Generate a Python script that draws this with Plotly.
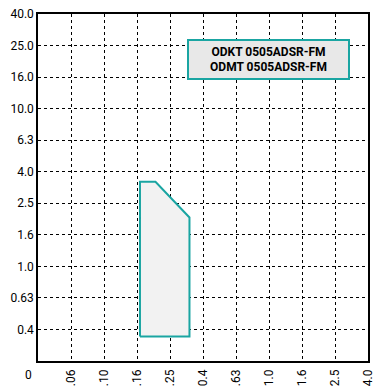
import plotly.graph_objects as go

x_ticks = ["0.06", "0.10", "0.16", "0.25", "0.4", "0.63", "1.0", "1.6", "2.5", "4.0"]
y_ticks = ["0.4", "0.63", "1.0", "1.6", "2.5", "4.0", "6.3", "10.0", "16.0", "25.0", "40.0"]

# polygon of application area (in tick index units)
area_x = [3.09, 3.09, 3.56, 4.59, 4.59, 3.09]
area_y = [0.78, 5.68, 5.68, 4.55, 0.78, 0.78]

label_lines = ["ODKT 0505ADSR-FM", "ODMT 0505ADSR-FM"]

teal = "#1aa5a2"
font_fam = "Roboto, sans-serif"

fig = go.Figure()
fig.add_trace(go.Scatter(
    x=area_x, y=area_y, mode="lines", fill="toself",
    fillcolor="#f2f2f2", line=dict(color=teal, width=2),
    hoverinfo="skip", showlegend=False,
))

fig.update_layout(
    width=377, height=387,
    margin=dict(l=38, r=9, t=14, b=26),
    plot_bgcolor="white", paper_bgcolor="white",
    font=dict(family=font_fam, size=12, color="black"),
    showlegend=False,
    xaxis=dict(
        range=[0, 10], tickmode="array",
        tickvals=list(range(1, len(x_ticks) + 1)), ticktext=x_ticks,
        tickangle=-90, showgrid=True, gridcolor="black", griddash="dot",
        gridwidth=1, showline=True, linecolor="black", linewidth=1.5,
        mirror=True, ticks="", zeroline=False, fixedrange=True,
        tickfont=dict(size=12), automargin=False, ticklabelstandoff=2,
    ),
    yaxis=dict(
        range=[0, 11], tickmode="array",
        tickvals=list(range(1, len(y_ticks) + 1)), ticktext=y_ticks,
        showgrid=True, gridcolor="black", griddash="dot",
        gridwidth=1, showline=True, linecolor="black", linewidth=1.5,
        mirror=True, ticks="", zeroline=False, fixedrange=True,
        tickfont=dict(size=12), automargin=False,
    ),
)

fig.add_annotation(
    x=0, y=0, xref="x", yref="y", text="0", showarrow=False,
    xanchor="right", yanchor="top", xshift=-4, yshift=-5,
    font=dict(size=12),
)

fig.add_annotation(
    x=6.98, y=9.55, xref="x", yref="y",
    text="<b>" + "<br>".join(label_lines) + "</b>",
    showarrow=False, bgcolor="#e8e8e8", bordercolor=teal, borderwidth=2,
    width=157, height=35, align="center", font=dict(size=12),
)

fig.write_html(
    "out.html",
    config={"displayModeBar": False},
    post_script="document.body.style.margin='0';document.body.style.padding='0';",
)
